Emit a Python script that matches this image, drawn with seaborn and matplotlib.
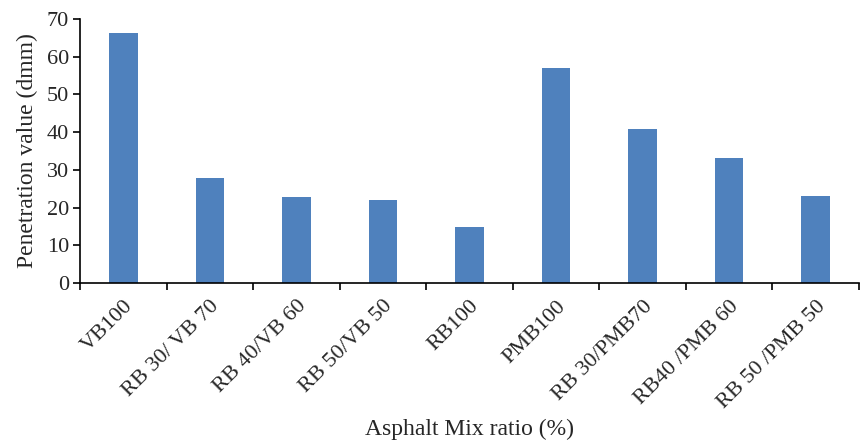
import numpy as np
import pandas as pd
import matplotlib
matplotlib.use("Agg")
import matplotlib.pyplot as plt
import seaborn as sns

# values
mixes = ["VB100", "RB 30/ VB 70", "RB 40/VB 60", "RB 50/VB 50", "RB100",
         "PMB100", "RB 30/PMB70", "RB40 /PMB 60", "RB 50 /PMB 50"]
penetration = [66.4, 27.9, 22.8, 22.0, 14.9, 57.1, 40.9, 33.2, 23.1]

df = pd.DataFrame({"Mix": mixes, "Penetration": penetration})

sns.set_style("white")
plt.rcParams["font.family"] = ["Liberation Serif", "DejaVu Serif"]

fig = plt.figure(figsize=(8.61, 4.46), dpi=100)
ax = fig.add_axes([80 / 861, 1 - 283 / 446, 779 / 861, 264 / 446])

sns.barplot(data=df, x="Mix", y="Penetration", color="#4F81BD",
            width=0.33, saturation=1, linewidth=0, ax=ax)

ax.set_xlim(-0.5, len(mixes) - 0.5)
ax.set_ylim(0, 70)
ax.set_yticks(range(0, 71, 10))
ax.tick_params(axis="y", labelsize=16, length=5, width=1.2, direction="out",
               left=True, color="black", pad=3)

# tick marks between categories, labels at category centres
ax.set_xticks(np.arange(-0.5, len(mixes), 1.0))
ax.set_xticklabels([])
ax.set_xticks(np.arange(len(mixes)), minor=True)
ax.set_xticklabels(mixes, minor=True, rotation=45, ha="right",
                   rotation_mode="anchor", fontsize=16)
ax.tick_params(axis="x", which="major", length=5, width=1.2, direction="out",
               bottom=True, color="black")
ax.tick_params(axis="x", which="minor", length=0, pad=10)

for side in ["top", "right"]:
    ax.spines[side].set_visible(False)
for side in ["left", "bottom"]:
    ax.spines[side].set_color("black")
    ax.spines[side].set_linewidth(1.2)

ax.set_xlabel("Asphalt Mix ratio (%)", fontsize=17, labelpad=5)
ax.set_ylabel("Penetration value (dmm)", fontsize=17, labelpad=6)

fig.savefig("out.png", dpi=100)
